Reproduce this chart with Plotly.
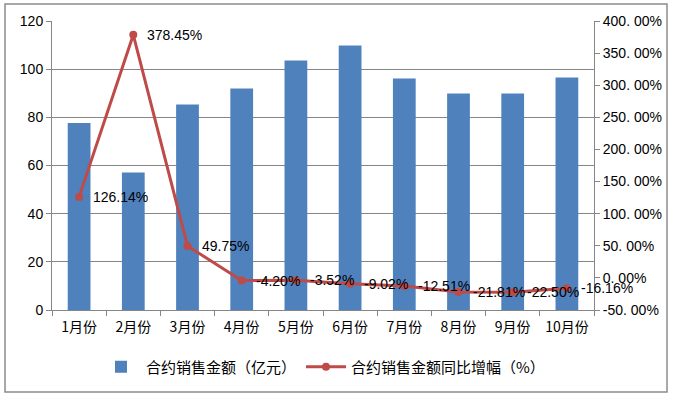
import plotly.graph_objects as go

months = ["1月份", "2月份", "3月份", "4月份", "5月份", "6月份", "7月份", "8月份", "9月份", "10月份"]
sales = [77.6, 57.1, 85.3, 92.0, 103.6, 109.8, 96.1, 89.9, 89.9, 96.5]
growth = [126.14, 378.45, 49.75, -4.20, -3.52, -9.02, -12.51, -21.81, -22.50, -16.16]
growth_labels = ["126.14%", "378.45%", "49.75%", "-4.20%", "-3.52%", "-9.02%", "-12.51%", "-21.81%", "-22.50%", "-16.16%"]
right_ticks = [-50, 0, 50, 100, 150, 200, 250, 300, 350, 400]
right_tick_text = ["-50. 00%", "0. 00%", "50. 00%", "100. 00%", "150. 00%", "200. 00%", "250. 00%", "300. 00%", "350. 00%", "400. 00%"]

FONT = "Liberation Sans, Noto Sans CJK SC, sans-serif"
CJK = "Noto Sans CJK SC, sans-serif"
BAR = "#4F81BD"
LINE = "#BE4B48"

fig = go.Figure()
fig.add_trace(go.Bar(x=months, y=sales, name="合约销售金额（亿元）",
                     marker=dict(color=BAR, line=dict(width=0)), width=0.42))
fig.add_trace(go.Scatter(x=months, y=growth, name="合约销售金额同比增幅（%）", yaxis="y2",
                         mode="lines+markers", line=dict(color=LINE, width=3),
                         marker=dict(color=LINE, size=8)))

for m, g, t in zip(months, growth, growth_labels):
    fig.add_annotation(x=m, y=g, yref="y2", text=t, showarrow=False,
                       xanchor="left", yanchor="middle", xshift=12,
                       font=dict(family=FONT, size=14, color="#000000"))

fig.add_shape(type="rect", xref="paper", yref="paper", x0=-0.0867, x1=1.1347, y0=-0.2837, y1=1.0588,
              line=dict(color="#8c8c8c", width=1.5), fillcolor="rgba(0,0,0,0)", layer="below")

fig.update_layout(
    width=674, height=396,
    margin=dict(l=52, r=80, t=21, b=86, autoexpand=False),
    paper_bgcolor="white", plot_bgcolor="white",
    font=dict(family=FONT, size=14, color="#000000"),
    showlegend=True,
    legend=dict(orientation="h", x=0.5, xanchor="center", y=-0.197, yanchor="middle",
                font=dict(family=CJK, size=15), itemwidth=40,
                bgcolor="rgba(0,0,0,0)"),
    xaxis=dict(type="category", range=[-0.5, len(months) - 0.5], showline=True,
               linecolor="#868686", linewidth=1,
               ticks="outside", tickson="boundaries", ticklen=5, tickcolor="#868686",
               showgrid=False, tickangle=0, automargin=False, ticklabelstandoff=4,
               tickfont=dict(family=CJK, size=14)),
    yaxis=dict(range=[0, 120], dtick=20, showline=True, linecolor="#868686", linewidth=1,
               ticks="outside", ticklen=5, tickcolor="#868686", automargin=False,
               showgrid=True, gridcolor="#868686", gridwidth=1, zeroline=False,
               tickfont=dict(size=14)),
    yaxis2=dict(range=[-50, 400], overlaying="y", side="right", tickvals=right_ticks,
                ticktext=right_tick_text, showline=True, linecolor="#868686", linewidth=1,
                ticks="outside", ticklen=5, tickcolor="#868686", showgrid=False, zeroline=False,
                automargin=False, tickfont=dict(size=14)),
)

fig.write_html("out.html", config={"displayModeBar": False},
               post_script="document.body.style.margin='0px';")
